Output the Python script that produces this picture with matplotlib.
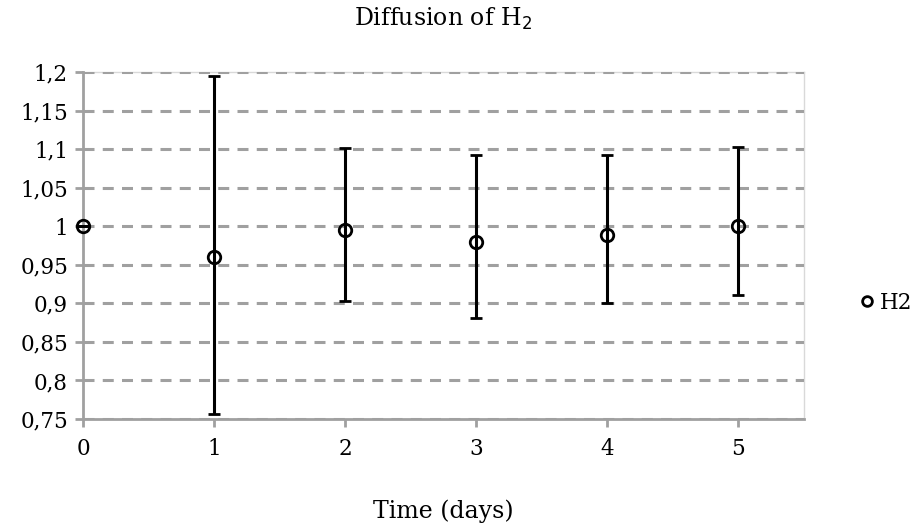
import matplotlib
matplotlib.use('Agg')
import matplotlib.pyplot as plt
from matplotlib.lines import Line2D
from matplotlib.ticker import FuncFormatter

# data
days = [0, 1, 2, 3, 4, 5]
h2 = [1.0, 0.96, 0.995, 0.979, 0.989, 1.0]
err_up = [0.0, 0.235, 0.106, 0.113, 0.103, 0.103]
err_low = [0.0, 0.203, 0.092, 0.098, 0.089, 0.089]
yticks = [0.75, 0.8, 0.85, 0.9, 0.95, 1.0, 1.05, 1.1, 1.15, 1.2]

plt.rcParams['font.family'] = ['DejaVu Serif']

fig = plt.figure(figsize=(9.18, 5.29), dpi=100)
ax = fig.add_axes([83/918, 110/529, (804-83)/918, (419-72)/529])

eb = ax.errorbar(days, h2, yerr=[err_low, err_up], fmt='o', ms=9,
                 mfc='none', mec='black', mew=2, ecolor='black',
                 elinewidth=2.2, capsize=4.5, capthick=2.2, zorder=3)
for art in eb.get_children():
    art.set_clip_on(False)

ax.set_xlim(0, 5.5)
ax.set_ylim(0.75, 1.2)
ax.set_xticks(days)
ax.set_yticks(yticks)
ax.yaxis.set_major_formatter(FuncFormatter(
    lambda v, p: ('%g' % round(v, 2)).replace('.', ',')))

ax.grid(axis='y', color='#a0a0a0', linestyle=(0, (3.6, 2.7)), linewidth=2.2)
ax.set_axisbelow(True)

for s in ['top', 'right']:
    ax.spines[s].set_color('#d9d9d9')
    ax.spines[s].set_linewidth(1)
    ax.spines[s].set_zorder(0.1)
for s in ['left', 'bottom']:
    ax.spines[s].set_color('#a0a0a0')
    ax.spines[s].set_linewidth(2)
ax.tick_params(axis='both', colors='#a0a0a0', length=5.8, width=2,
               labelcolor='black', labelsize=15.5, pad=5)
ax.tick_params(axis='x', pad=8)

ax.set_title('Diffusion of H$_2$', fontsize=17, pad=33)
ax.set_xlabel('Time (days)', fontsize=17, labelpad=28)

handle = Line2D([], [], ls='none', marker='o', ms=7, mfc='none',
                mec='black', mew=2)
ax.legend([handle], ['H2'], loc='center left', bbox_to_anchor=(1.042, 0.335),
          frameon=False, fontsize=15.5, handletextpad=0.0, handlelength=1.2)

fig.savefig('out.png', dpi=100)
